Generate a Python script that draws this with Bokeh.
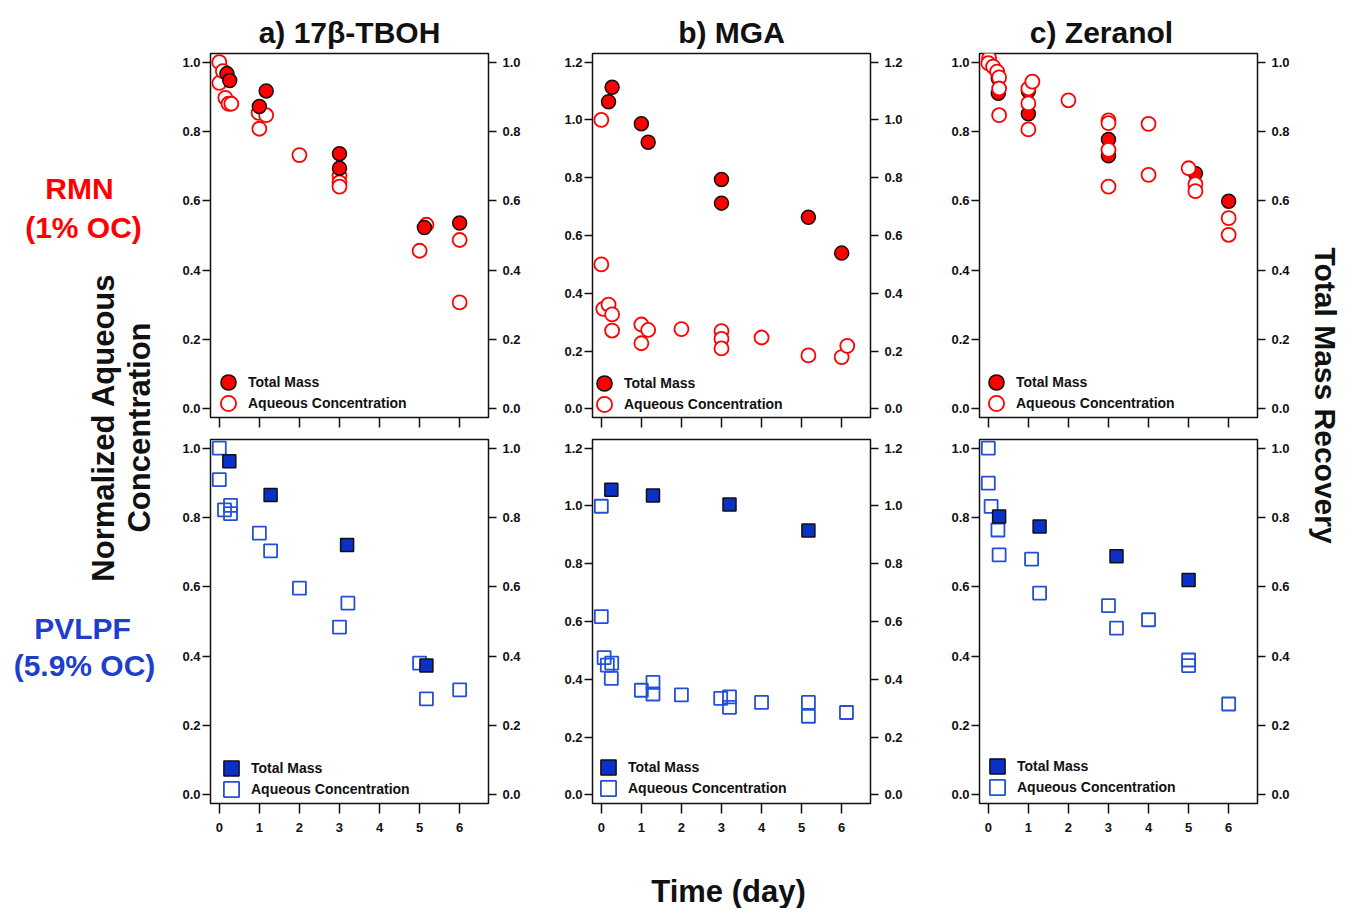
import math
from bokeh.plotting import figure
from bokeh.layouts import row, column
from bokeh.models import (Range1d, LinearAxis, FixedTicker, PrintfTickFormatter,
                          Legend, LegendItem, Label)
from bokeh.embed import file_html
from bokeh.resources import INLINE

# ---------------- data ----------------
day_ticks = [0, 1, 2, 3, 4, 5, 6]
y_ticks_10 = [0.0, 0.2, 0.4, 0.6, 0.8, 1.0]
y_ticks_12 = [0.0, 0.2, 0.4, 0.6, 0.8, 1.0, 1.2]
panel_titles = ["a) 17\u03b2-TBOH", "b) MGA", "c) Zeranol"]
series_labels = ["Total Mass", "Aqueous Concentration"]

# 17b-TBOH, RMN (1% OC)
tboh_rmn_total_day = [0.19, 0.26, 1.0, 1.17, 3.0, 3.0, 5.12, 6.0]
tboh_rmn_total_val = [0.967, 0.947, 0.872, 0.917, 0.736, 0.694, 0.523, 0.536]
tboh_rmn_aq_day = [0.0, 0.0, 0.09, 0.15, 0.23, 0.30, 0.98, 1.0, 1.17, 2.0, 3.0, 3.0, 3.0, 5.0, 5.17, 6.0, 6.0]
tboh_rmn_aq_val = [1.0, 0.94, 0.974, 0.897, 0.88, 0.88, 0.854, 0.808, 0.847, 0.732, 0.672, 0.653, 0.641, 0.456, 0.531, 0.487, 0.307]

# MGA, RMN
mga_rmn_total_day = [0.18, 0.27, 1.0, 1.17, 3.0, 3.0, 5.17, 6.0]
mga_rmn_total_val = [1.063, 1.113, 0.987, 0.923, 0.794, 0.712, 0.663, 0.539]
mga_rmn_aq_day = [0.0, 0.0, 0.05, 0.18, 0.27, 0.27, 1.0, 1.0, 1.17, 2.0, 3.0, 3.0, 3.0, 4.0, 5.17, 6.0, 6.14]
mga_rmn_aq_val = [1.0, 0.5, 0.346, 0.361, 0.327, 0.271, 0.292, 0.227, 0.273, 0.276, 0.269, 0.242, 0.209, 0.247, 0.185, 0.179, 0.218]

# Zeranol, RMN
zer_rmn_total_day = [0.25, 0.25, 1.0, 1.0, 3.0, 3.0, 5.17, 6.0]
zer_rmn_total_val = [0.953, 0.910, 0.917, 0.851, 0.777, 0.730, 0.679, 0.599]
zer_rmn_aq_day = [0.02, 0.0, 0.12, 0.22, 0.27, 0.27, 0.27, 1.0, 1.0, 1.1, 1.0, 2.0, 3.0, 3.0, 3.0, 3.0, 4.0, 4.0, 5.0, 5.17, 5.17, 6.0, 6.0]
zer_rmn_aq_val = [1.012, 0.997, 0.987, 0.973, 0.956, 0.924, 0.847, 0.924, 0.881, 0.944, 0.806, 0.890, 0.832, 0.824, 0.747, 0.641, 0.822, 0.675, 0.694, 0.648, 0.628, 0.550, 0.502]

# 17b-TBOH, PVLPF (5.9% OC)
tboh_pv_total_day = [0.25, 1.28, 3.19, 5.17]
tboh_pv_total_val = [0.962, 0.865, 0.721, 0.373]
tboh_pv_aq_day = [0.0, 0.0, 0.13, 0.28, 0.28, 1.0, 1.28, 2.0, 3.0, 3.21, 5.0, 5.17, 6.0]
tboh_pv_aq_val = [1.0, 0.909, 0.822, 0.835, 0.811, 0.755, 0.704, 0.596, 0.484, 0.553, 0.380, 0.277, 0.303]

# MGA, PVLPF
mga_pv_total_day = [0.25, 1.29, 3.2, 5.17]
mga_pv_total_val = [1.056, 1.036, 1.005, 0.915]
mga_pv_aq_day = [0.0, 0.0, 0.07, 0.15, 0.26, 0.25, 1.0, 1.29, 1.29, 2.0, 2.98, 3.2, 3.2, 4.0, 5.17, 5.17, 6.12]
mga_pv_aq_val = [0.999, 0.617, 0.475, 0.449, 0.456, 0.403, 0.362, 0.389, 0.349, 0.346, 0.334, 0.339, 0.303, 0.320, 0.320, 0.272, 0.285]

# Zeranol, PVLPF
zer_pv_total_day = [0.27, 1.28, 3.2, 5.0]
zer_pv_total_val = [0.803, 0.774, 0.688, 0.620]
zer_pv_aq_day = [0.0, 0.0, 0.07, 0.24, 0.27, 1.08, 1.28, 3.0, 3.2, 4.0, 5.0, 5.0, 6.0]
zer_pv_aq_val = [1.0, 0.899, 0.832, 0.764, 0.692, 0.680, 0.582, 0.546, 0.481, 0.505, 0.389, 0.373, 0.262]

# ---------------- style ----------------
FONT = "Liberation Sans"
INK = "#111111"
RED = "#FF0000"
BLUE_FILL = "#0A30C8"
BLUE_LINE = "#2450D8"
BLUE_TEXT = "#1E3FCB"


def style_axis(ax, ticks, fmt, standoff, tick_out, show_labels=True):
    ax.ticker = FixedTicker(ticks=ticks)
    ax.formatter = PrintfTickFormatter(format=fmt)
    ax.axis_line_color = None
    ax.major_tick_out = tick_out
    ax.major_tick_in = 0
    ax.minor_tick_out = 0
    ax.minor_tick_in = 0
    ax.major_tick_line_color = INK
    ax.major_tick_line_width = 1.5
    ax.major_label_standoff = standoff
    ax.major_label_text_font = FONT
    ax.major_label_text_font_style = "bold"
    ax.major_label_text_color = INK
    if show_labels:
        ax.major_label_text_font_size = "13px"
    else:
        ax.major_label_text_font_size = "1px"
        ax.major_label_text_alpha = 0.0


def one_item_legend(label, renderer, loc):
    return Legend(items=[LegendItem(label=label, renderers=[renderer])],
                  location=loc, border_line_color=None, background_fill_alpha=0.0,
                  padding=0, margin=0, spacing=0, glyph_height=38, glyph_width=38,
                  label_height=20, label_standoff=1, label_text_font=FONT,
                  label_text_font_style="bold", label_text_font_size="14px",
                  label_text_color=INK)


def make_panel(width, height, bl, br, bt, bb, tall, top_row,
               total_day, total_val, aq_day, aq_val, open_on_top, leg_dxdy):
    yr = Range1d(-0.03, 1.23) if tall else Range1d(-0.025, 1.025)
    yt = y_ticks_12 if tall else y_ticks_10
    p = figure(width=width, height=height, x_range=Range1d(-0.22, 6.72), y_range=yr,
               output_backend="svg", toolbar_location=None, title=None,
               min_border_left=bl, min_border_right=br, min_border_top=bt,
               min_border_bottom=bb, outline_line_color=INK, outline_line_width=1.5)
    p.grid.visible = False
    style_axis(p.xaxis[0], day_ticks, "%d", 0 if top_row else 9, 10, show_labels=not top_row)
    style_axis(p.yaxis[0], yt, "%.1f", 2, 8)
    rax = LinearAxis()
    style_axis(rax, yt, "%.1f", 6, 8)
    p.add_layout(rax, "right")

    if top_row:
        fkw = dict(marker="circle", size=14, fill_color=RED, line_color=INK, line_width=1.5)
        okw = dict(marker="circle", size=14, fill_color="white", line_color=RED, line_width=1.8)
    else:
        fkw = dict(marker="square", size=13, fill_color=BLUE_FILL, line_color=INK, line_width=1.5)
        okw = dict(marker="square", size=13, fill_color=None, line_color=BLUE_LINE, line_width=1.8)

    if open_on_top:
        r_tot = p.scatter(total_day, total_val, **fkw)
        r_aq = p.scatter(aq_day, aq_val, **okw)
    else:
        r_aq = p.scatter(aq_day, aq_val, **okw)
        r_tot = p.scatter(total_day, total_val, **fkw)

    dx, dy = leg_dxdy
    p.add_layout(one_item_legend(series_labels[0], r_tot, (dx - 19, dy + 2)))
    p.add_layout(one_item_legend(series_labels[1], r_aq, (dx - 19, dy - 19)))
    return p


def blank(width, height):
    f = figure(width=width, height=height, x_range=Range1d(0, width), y_range=Range1d(0, height),
               output_backend="svg", toolbar_location=None, title=None,
               x_axis_type=None, y_axis_type=None, outline_line_color=None,
               min_border_left=0, min_border_right=0, min_border_top=0, min_border_bottom=0)
    f.grid.visible = False
    return f


def text(f, x, y, s, size, color=INK, angle=0.0):
    f.add_layout(Label(x=x, y=y, text=s, text_font=FONT, text_font_style="bold",
                       text_font_size=size, text_color=color, text_align="center",
                       text_baseline="alphabetic", angle=angle))


# column geometry (width, left border, right border)
cols = [(370, 42, 50), (384, 54, 52), (376, 57, 41)]
HEAD_H, TOP_H, BOT_H, FOOT_H = 51, 380, 412, 65
TOTAL_H = HEAD_H + TOP_H + BOT_H + FOOT_H  # 908

top_data = [(tboh_rmn_total_day, tboh_rmn_total_val, tboh_rmn_aq_day, tboh_rmn_aq_val, False, False, (18, 14)),
            (mga_rmn_total_day, mga_rmn_total_val, mga_rmn_aq_day, mga_rmn_aq_val, True, False, (12, 13)),
            (zer_rmn_total_day, zer_rmn_total_val, zer_rmn_aq_day, zer_rmn_aq_val, False, True, (17, 14))]
bot_data = [(tboh_pv_total_day, tboh_pv_total_val, tboh_pv_aq_day, tboh_pv_aq_val, False, False, (21, 14)),
            (mga_pv_total_day, mga_pv_total_val, mga_pv_aq_day, mga_pv_aq_val, True, False, (16, 15)),
            (zer_pv_total_day, zer_pv_total_val, zer_pv_aq_day, zer_pv_aq_val, False, False, (18, 16))]

top_figs = []
for (w, bl, br), (td, tv, ad, av, tall, oot, lxy) in zip(cols, top_data):
    top_figs.append(make_panel(w, TOP_H, bl, br, 2, 14, tall, True, td, tv, ad, av, oot, lxy))
bot_figs = []
for (w, bl, br), (td, tv, ad, av, tall, oot, lxy) in zip(cols, bot_data):
    bot_figs.append(make_panel(w, BOT_H, bl, br, 8, 40, tall, False, td, tv, ad, av, oot, lxy))

CENTER_W = sum(c[0] for c in cols)  # 1130
header = blank(CENTER_W, HEAD_H)
for cx, t in zip([181, 563, 933], panel_titles):
    text(header, cx, 19, t, "30px")

footer = blank(CENTER_W, FOOT_H)
text(footer, 560, 17, "Time (day)", "31px")

left = blank(168, TOTAL_H)
text(left, 79, 720, "RMN", "30px", RED)
text(left, 83, 681, "(1% OC)", "30px", RED)
text(left, 82, 280, "PVLPF", "30px", BLUE_TEXT)
text(left, 84, 243, "(5.9% OC)", "30px", BLUE_TEXT)
text(left, 103, 481, "Normalized Aqueous", "31px", INK, math.pi / 2)
text(left, 139, 481, "Concentration", "31px", INK, math.pi / 2)

right = blank(48, TOTAL_H)
text(right, 27, 513, "Total Mass Recovery", "30px", INK, -math.pi / 2)

center = column(header, row(*top_figs), row(*bot_figs), footer)
layout = row(left, center, right)

open("out.html", "w").write(file_html(layout, INLINE))
